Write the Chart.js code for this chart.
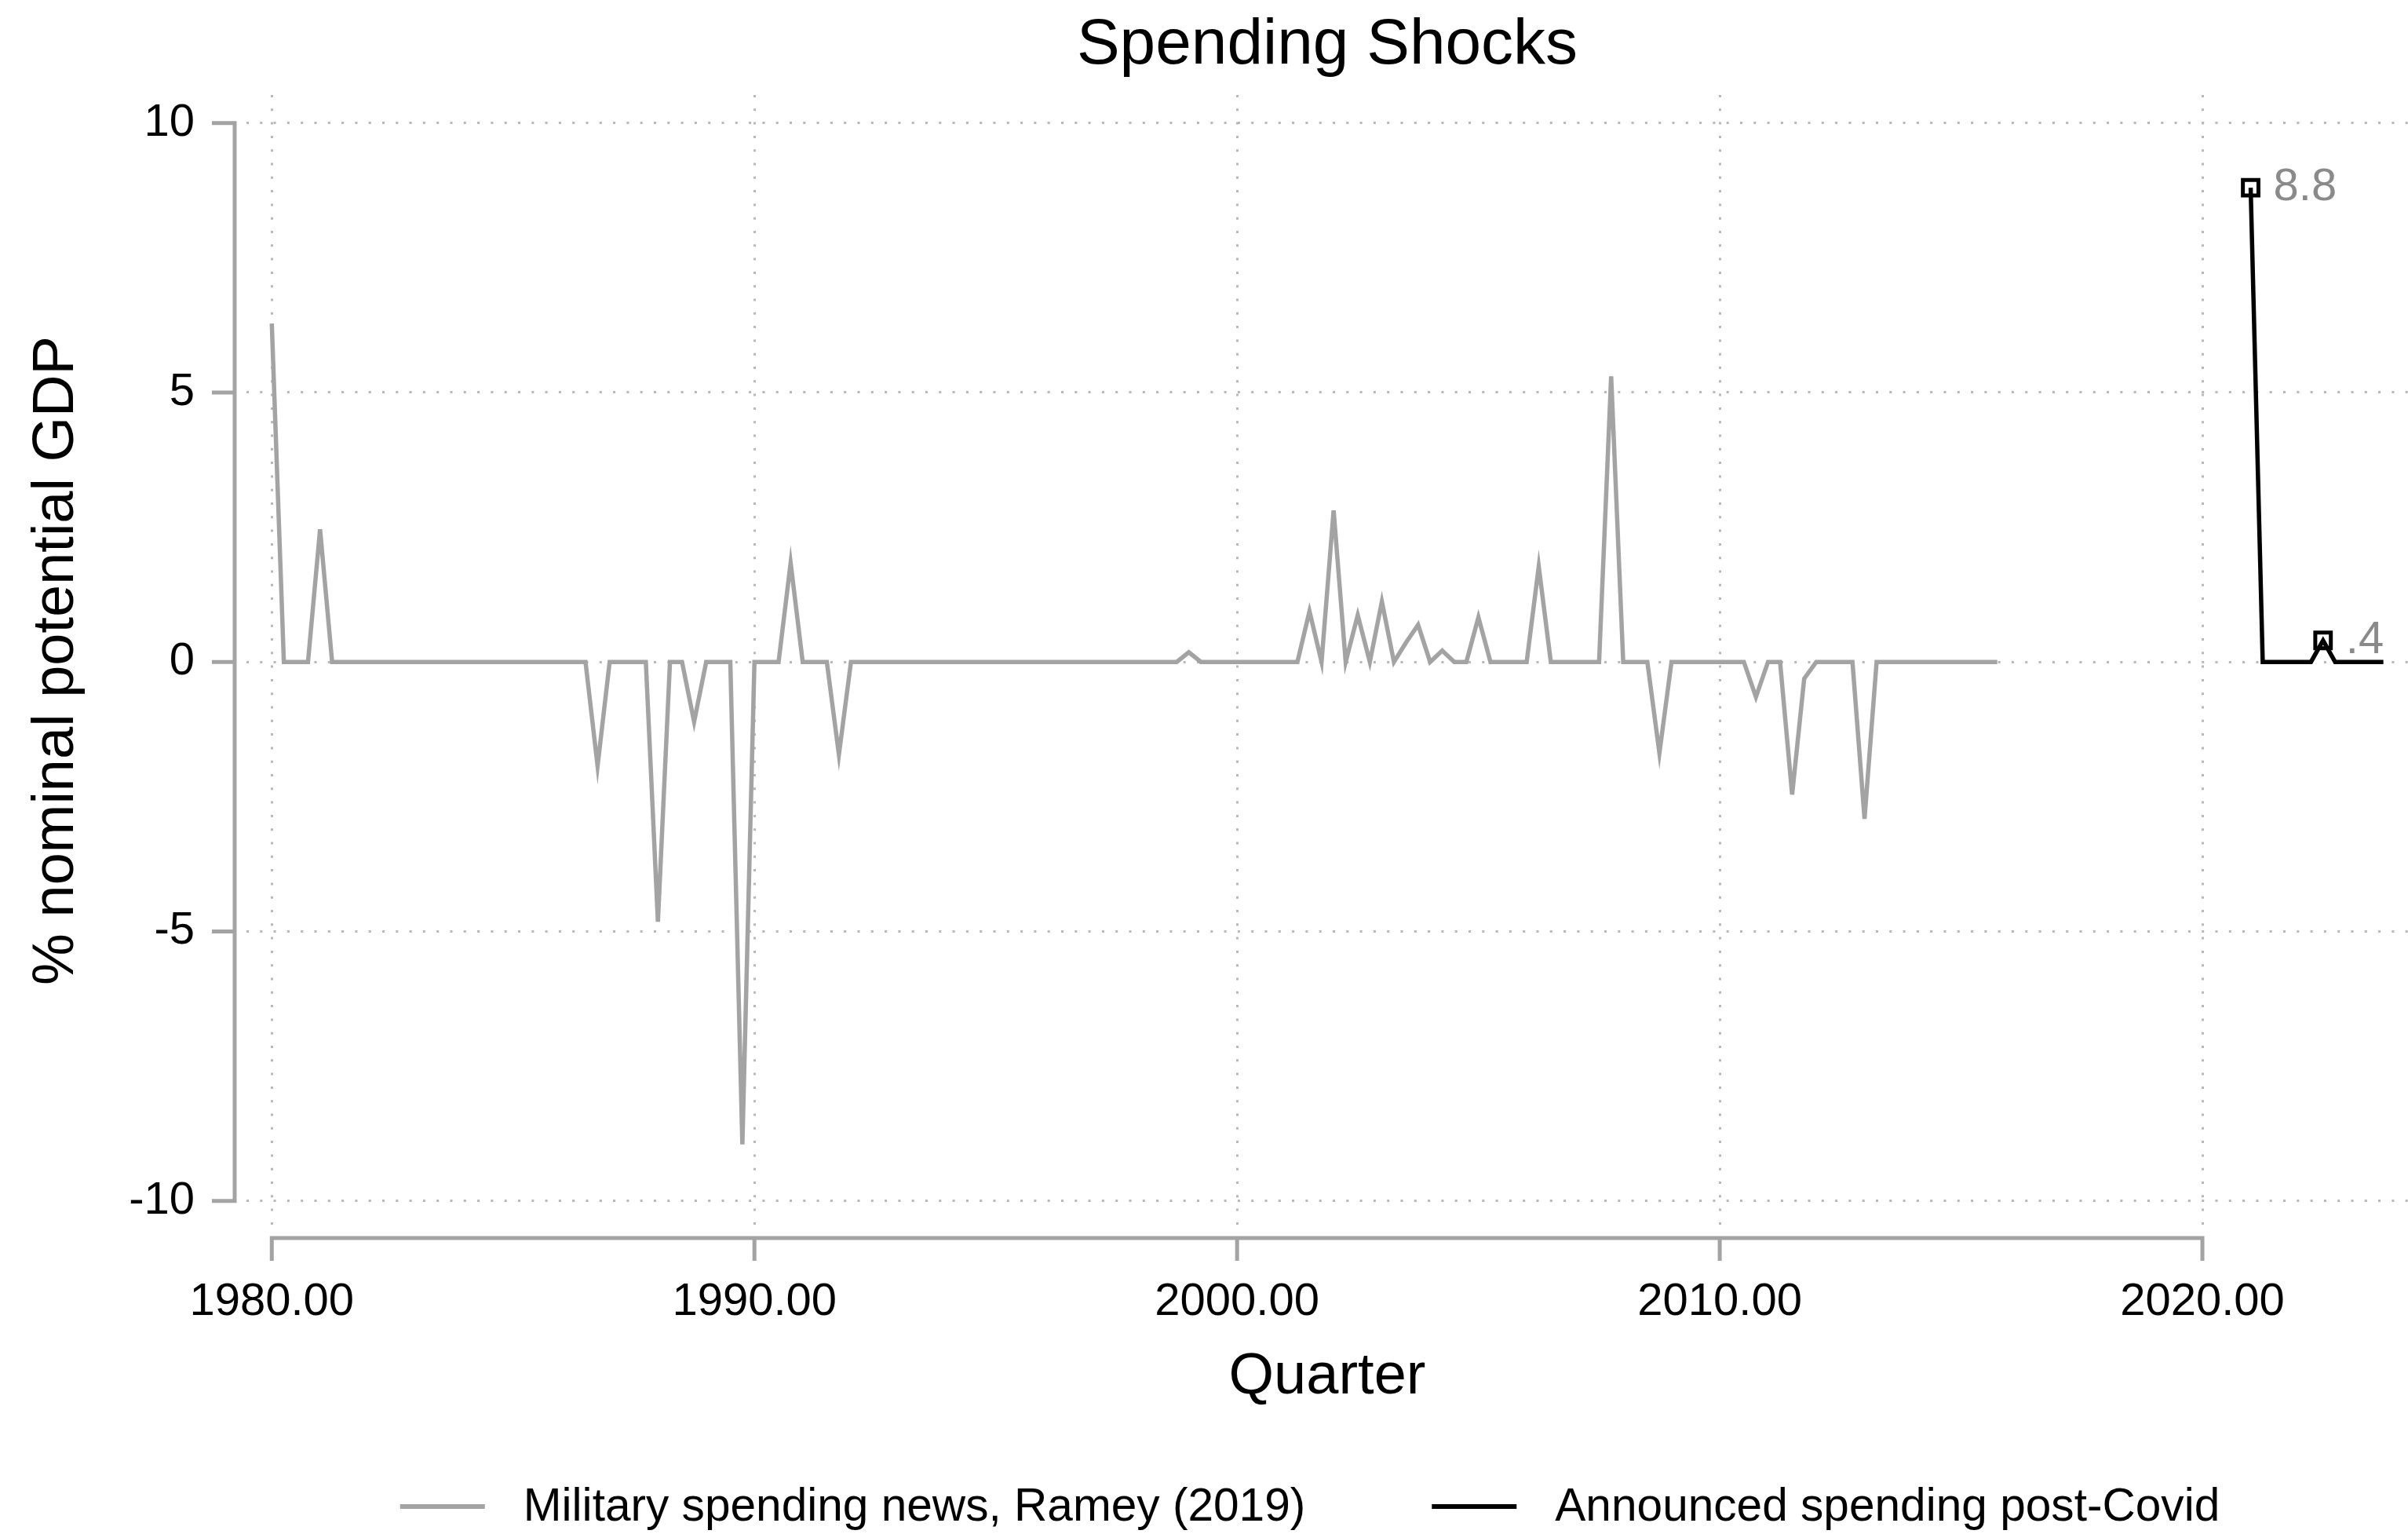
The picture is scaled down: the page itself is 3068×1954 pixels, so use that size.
<!DOCTYPE html>
<html lang="en">
<head>
    <meta charset="UTF-8">
    <title>Spending Shocks</title>
    <script src="https://cdn.jsdelivr.net/npm/chart.js"></script>
    <style>
        body { margin: 0; background: #fff; }
        #shocksChart { display: block; }
    </style>
</head>
<body>
    <canvas id="shocksChart" width="3068" height="1954" style="width:3068px;height:1954px;"></canvas>
    <script>
        // Quarterly series start years (first value = Q1 of that year)
        const militaryStartYear = 1980;
        const covidStartYear = 2021;

        // Military spending news, Ramey (2019), % of nominal potential GDP, one row per year (Q1..Q4)
        const militaryNews = [
            6.28, 0, 0, 0,        // 1980
            2.46, 0, 0, 0,        // 1981
            0, 0, 0, 0,           // 1982
            0, 0, 0, 0,           // 1983
            0, 0, 0, 0,           // 1984
            0, 0, 0, 0,           // 1985
            0, 0, 0, -1.93,       // 1986
            0, 0, 0, 0,           // 1987
            -4.82, 0, 0, -1.11,   // 1988
            0, 0, 0, -8.95,       // 1989
            0, 0, 0, 1.84,        // 1990
            0, 0, 0, -1.72,       // 1991
            0, 0, 0, 0,           // 1992
            0, 0, 0, 0,           // 1993
            0, 0, 0, 0,           // 1994
            0, 0, 0, 0,           // 1995
            0, 0, 0, 0,           // 1996
            0, 0, 0, 0,           // 1997
            0, 0, 0, 0,           // 1998
            0.18, 0, 0, 0,        // 1999
            0, 0, 0, 0,           // 2000
            0, 0, 0.94, 0,        // 2001
            2.81, 0, 0.87, 0,     // 2002
            1.12, 0, 0.36, 0.69,  // 2003
            0, 0.21, 0, 0,        // 2004
            0.83, 0, 0, 0,        // 2005
            0, 1.77, 0, 0,        // 2006
            0, 0, 0, 5.30,        // 2007
            0, 0, 0, -1.69,       // 2008
            0, 0, 0, 0,           // 2009
            0, 0, 0, -0.65,       // 2010
            0, 0, -2.46, -0.31,   // 2011
            0, 0, 0, 0,           // 2012
            -2.91, 0, 0, 0,       // 2013
            0, 0, 0, 0,           // 2014
            0, 0, 0, 0            // 2015
        ];

        // Announced spending post-Covid, 2021Q1..2023Q4
        const covidSpending = [8.8, 0, 0, 0, 0, 0, 0.4, 0, 0, 0, 0, 0];

        const xTicks = [1980, 1990, 2000, 2010, 2020];
        const yTicks = [-10, -5, 0, 5, 10];

        const seriesLabels = ['Military spending news, Ramey (2019)', 'Announced spending post-Covid'];

        const FONT = "'Liberation Sans', Arial, Helvetica, sans-serif";
        Chart.defaults.font.family = FONT;
        Chart.defaults.color = '#000';

        const AXIS_GRAY = '#a3a3a3';
        const GRID_GRAY = '#b8b8b8';

        // quarter index -> decimal year (Q1 = .00, Q2 = .25, ...)
        function toPoints(startYear, values) {
            return values.map((v, i) => ({ x: startYear + i / 4, y: v }));
        }

        // Stata-style number: 0.4 -> ".4"
        function shortNum(v) {
            const s = String(v);
            if (s.startsWith('0.')) return s.slice(1);
            if (s.startsWith('-0.')) return '-' + s.slice(2);
            return s;
        }

        // Axis lines offset from the plot region, spanning only the tick range
        const offsetAxes = {
            id: 'offsetAxes',
            afterDraw(chart) {
                const { ctx, chartArea, scales } = chart;
                const xs = scales.x, ys = scales.y;
                const gap = 15, tick = 29;
                ctx.save();
                ctx.strokeStyle = AXIS_GRAY;
                ctx.lineWidth = 5;
                ctx.lineJoin = 'miter';
                ctx.lineCap = 'butt';

                // y axis
                const ax = chartArea.left - gap;
                const yTop = ys.getPixelForValue(yTicks[yTicks.length - 1]);
                const yBot = ys.getPixelForValue(yTicks[0]);
                ctx.beginPath();
                ctx.moveTo(ax - tick, yTop);
                ctx.lineTo(ax, yTop);
                ctx.lineTo(ax, yBot);
                ctx.lineTo(ax - tick, yBot);
                yTicks.slice(1, -1).forEach(v => {
                    const py = ys.getPixelForValue(v);
                    ctx.moveTo(ax - tick, py);
                    ctx.lineTo(ax, py);
                });
                ctx.stroke();

                // x axis
                const ay = chartArea.bottom + gap;
                const xL = xs.getPixelForValue(xTicks[0]);
                const xR = xs.getPixelForValue(xTicks[xTicks.length - 1]);
                ctx.beginPath();
                ctx.moveTo(xL, ay + tick);
                ctx.lineTo(xL, ay);
                ctx.lineTo(xR, ay);
                ctx.lineTo(xR, ay + tick);
                xTicks.slice(1, -1).forEach(v => {
                    const px = xs.getPixelForValue(v);
                    ctx.moveTo(px, ay);
                    ctx.lineTo(px, ay + tick);
                });
                ctx.stroke();
                ctx.restore();
            }
        };

        // Value labels next to the marked post-Covid points
        const markerLabels = {
            id: 'markerLabels',
            afterDatasetsDraw(chart) {
                const { ctx } = chart;
                const meta = chart.getDatasetMeta(1);
                ctx.save();
                ctx.font = '58px ' + FONT;
                ctx.fillStyle = '#8a8a8a';
                ctx.textAlign = 'left';
                ctx.textBaseline = 'middle';
                meta.data.forEach((pt, i) => {
                    const v = covidSpending[i];
                    if (v === 0) return;
                    ctx.fillText(shortNum(v), pt.x + 29, pt.y);
                });
                ctx.restore();
            }
        };

        // Legend row under the x axis title
        const bottomLegend = {
            id: 'bottomLegend',
            afterDraw(chart) {
                const { ctx, chartArea } = chart;
                const sampleW = 108, sampleGap = 49, itemGap = 161;
                const y = 1919;
                ctx.save();
                ctx.font = '58.6px ' + FONT;
                const items = chart.data.datasets.map(ds => ({
                    text: ds.label,
                    color: ds.borderColor,
                    w: ctx.measureText(ds.label).width
                }));
                const total = items.reduce((s, it) => s + sampleW + sampleGap + it.w, 0) + itemGap * (items.length - 1);
                let x = (chartArea.left + chartArea.right) / 2 - 22 - total / 2;
                items.forEach(it => {
                    ctx.strokeStyle = it.color;
                    ctx.lineWidth = 6;
                    ctx.beginPath();
                    ctx.moveTo(x, y);
                    ctx.lineTo(x + sampleW, y);
                    ctx.stroke();
                    ctx.fillStyle = '#000';
                    ctx.textAlign = 'left';
                    ctx.textBaseline = 'middle';
                    ctx.fillText(it.text, x + sampleW + sampleGap, y + 2);
                    x += sampleW + sampleGap + it.w + itemGap;
                });
                ctx.restore();
            }
        };

        const ctx = document.getElementById('shocksChart').getContext('2d');
        new Chart(ctx, {
            type: 'line',
            data: {
                datasets: [
                    {
                        label: seriesLabels[0],
                        data: toPoints(militaryStartYear, militaryNews),
                        borderColor: AXIS_GRAY,
                        borderWidth: 5.5,
                        pointRadius: 0,
                        tension: 0,
                        borderJoinStyle: 'miter'
                    },
                    {
                        label: seriesLabels[1],
                        data: toPoints(covidStartYear, covidSpending),
                        borderColor: '#000',
                        borderWidth: 5.5,
                        tension: 0,
                        pointStyle: 'rect',
                        pointRadius: c => (c.raw && c.raw.y !== 0 ? 14 : 0),
                        pointBorderWidth: 5,
                        pointBorderColor: '#000',
                        pointBackgroundColor: 'rgba(0,0,0,0)'
                    }
                ]
            },
            options: {
                responsive: false,
                animation: false,
                events: [],
                layout: { autoPadding: false, padding: { left: 0, right: 0, top: 0, bottom: 142 } },
                plugins: {
                    legend: { display: false },
                    tooltip: { enabled: false },
                    title: {
                        display: true,
                        text: 'Spending Shocks',
                        fullSize: false,
                        color: '#000',
                        font: { size: 82, weight: 'normal', lineHeight: 1.2 },
                        padding: { top: 9, bottom: 13.6 }
                    }
                },
                scales: {
                    x: {
                        type: 'linear',
                        min: 1979.475,
                        max: 2024.26,
                        afterBuildTicks: s => { s.ticks = xTicks.map(v => ({ value: v })); },
                        afterFit: s => { s.height = 250; s.paddingLeft = 0; s.paddingRight = 0; },
                        ticks: {
                            padding: 62,
                            maxRotation: 0,
                            font: { size: 58, lineHeight: 1.2 },
                            callback: v => Number(v).toFixed(2)
                        },
                        grid: { color: GRID_GRAY, lineWidth: 3, drawTicks: false },
                        border: { display: false, dash: [3, 14.3] },
                        title: {
                            display: true,
                            text: 'Quarter',
                            font: { size: 74, lineHeight: 1.2 },
                            padding: { top: 0, bottom: 13 }
                        }
                    },
                    y: {
                        min: -10.47,
                        max: 10.52,
                        afterBuildTicks: s => { s.ticks = yTicks.map(v => ({ value: v })); },
                        afterFit: s => { s.width = 314; },
                        ticks: {
                            padding: 66,
                            font: { size: 58, lineHeight: 1.2 },
                            callback: v => String(v)
                        },
                        grid: { color: GRID_GRAY, lineWidth: 3, drawTicks: false },
                        border: { display: false, dash: [3, 14.3] },
                        title: {
                            display: true,
                            text: '% nominal potential GDP',
                            font: { size: 74, lineHeight: 1.2 },
                            padding: { top: 28, bottom: 0 }
                        }
                    }
                }
            },
            plugins: [offsetAxes, markerLabels, bottomLegend]
        });
    </script>
</body>
</html>
